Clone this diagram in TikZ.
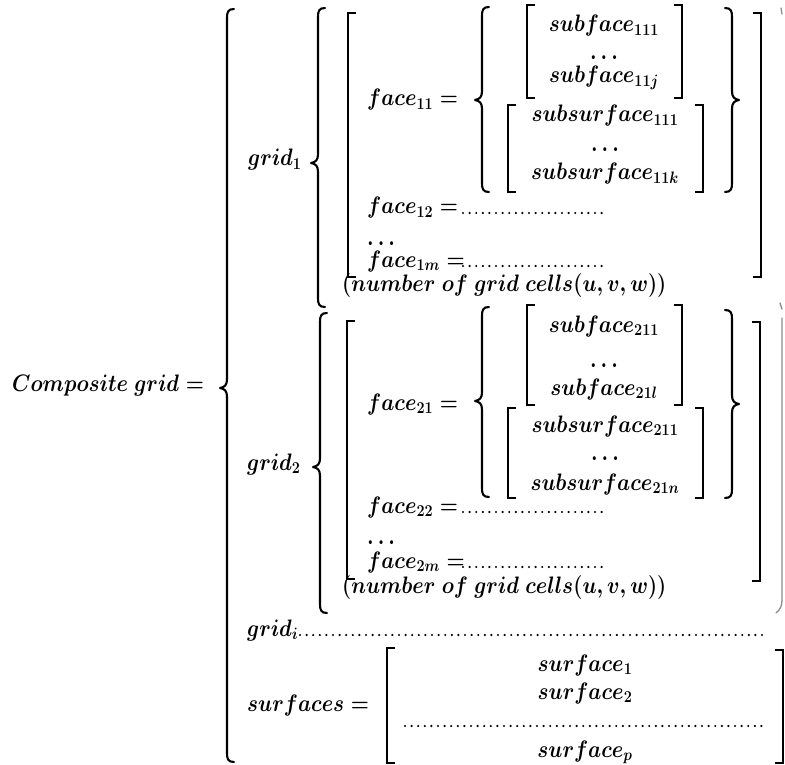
\documentclass[tikz,border=0pt]{standalone}
\usepackage{amsmath}
\newcommand\LBrace[4]{% x of line, top, tip y, bottom
  \draw[bracestyle] (#1+7,#2) .. controls (#1+1,#2) and (#1,#2+3) .. (#1,#2+9) -- (#1,#3-9) .. controls (#1,#3-3) and (#1-2,#3-1) .. (#1-7,#3) .. controls (#1-2,#3+1) and (#1,#3+3) .. (#1,#3+9) -- (#1,#4-9) .. controls (#1,#4-3) and (#1+1,#4) .. (#1+7,#4);}
\newcommand\RBrace[4]{%
  \draw[bracestyle] (#1-7,#2) .. controls (#1-1,#2) and (#1,#2+3) .. (#1,#2+9) -- (#1,#3-9) .. controls (#1,#3-3) and (#1+2,#3-1) .. (#1+7,#3) .. controls (#1+2,#3+1) and (#1,#3+3) .. (#1,#3+9) -- (#1,#4-9) .. controls (#1,#4-3) and (#1-1,#4) .. (#1-7,#4);}
\newcommand\LBrk[3]{\draw[brk] (#1+8,#2) -- (#1,#2) -- (#1,#3) -- (#1+8,#3);}
\newcommand\RBrk[3]{\draw[brk] (#1-8,#2) -- (#1,#2) -- (#1,#3) -- (#1-8,#3);}
\begin{document}
\begin{tikzpicture}[x=1pt,y=-1pt,
  txt/.style={inner sep=0pt, font=\fontsize{21}{25}\selectfont\boldmath, yscale=1.15, transform shape},
  lt/.style={txt, anchor=base west},
  ct/.style={txt, anchor=base},
  bracestyle/.style={line width=2.1pt, line cap=round, line join=round},
  brk/.style={line width=1.9pt, line join=miter},
  dotrow/.style={line width=2.4pt, line cap=round, dash pattern=on 0pt off 6.6pt},
  faint/.style={line width=1.3pt, black!45, line cap=round},
]
\useasboundingbox (0,0) rectangle (785,765);

% texts
\node[lt] (comp) at (12,391) {$Composite\ grid =$};
\node[lt] (g1) at (248,166) {$grid_1$};
\node[lt] (g2) at (247,470) {$grid_2$};

\node[lt] (f11) at (367,106) {$face_{11} =$};
\node[ct] (sf111) at (604,32) {$subface_{111}$};
\node[ct] (sfd1) at (604,60) {$\ldots$};
\node[ct] (sf11j) at (604,83) {$subface_{11j}$};
\node[ct] (ss111) at (605,122) {$subsurface_{111}$};
\node[ct] (ssd1) at (605,152) {$\ldots$};
\node[ct] (ss11k) at (605,180) {$subsurface_{11k}$};
\node[lt] (f12) at (367,214) {$face_{12} =$};
\node[lt] (d1) at (367,245) {$\ldots$};
\node[lt] (f1m) at (367,267) {$face_{1m} =$};
\node[lt] (n1) at (342,291) {$(number\ of\ grid\ cells(u,v,w))$};

\node[lt] (f21) at (367,410) {$face_{21} =$};
\node[ct] (sf211) at (604,332) {$subface_{211}$};
\node[ct] (sfd2) at (604,367) {$\ldots$};
\node[ct] (sf21l) at (604,395) {$subface_{21l}$};
\node[ct] (ss211) at (605,432) {$subsurface_{211}$};
\node[ct] (ssd2) at (605,460) {$\ldots$};
\node[ct] (ss21n) at (605,490) {$subsurface_{21n}$};
\node[lt] (f22) at (367,513) {$face_{22} =$};
\node[lt] (d2) at (367,544) {$\ldots$};
\node[lt] (f2m) at (367,568) {$face_{2m} =$};
\node[lt] (n2) at (342,593) {$(number\ of\ grid\ cells(u,v,w))$};

\node[lt] (gi) at (247,636) {$grid_i$};
\node[lt] (surfs) at (247,711) {$surfaces =$};
\node[ct] (s1) at (585,671) {$surface_1$};
\node[ct] (s2) at (585,699) {$surface_2$};
\node[ct] (sp) at (585,757) {$surface_p$};

% dotted fillers
\draw[dotrow] (463,213) -- (602,213);
\draw[dotrow] (463,266) -- (607,266);
\draw[dotrow] (463,512) -- (602,512);
\draw[dotrow] (463,567) -- (607,567);
\draw[dotrow] (300,635) -- (762,635);
\draw[dotrow] (405,726) -- (763,726);

% braces
\LBrace{227}{9}{388}{762}
\LBrace{318}{8}{163}{307}
\LBrace{320}{313}{467}{613}
\LBrace{482}{7}{100}{192}
\RBrace{732}{8}{100}{192}
\LBrace{482}{307}{401}{497}
\RBrace{732}{310}{404}{498}

% brackets
\LBrk{348}{13}{277}
\RBrk{761}{13}{277}
\LBrk{527}{5}{98}
\RBrk{682}{5}{98}
\LBrk{508}{105}{192}
\RBrk{703}{105}{192}
\LBrk{347}{321}{579}
\RBrk{760}{322}{581}
\LBrk{527}{305}{405}
\RBrk{682}{305}{405}
\LBrk{508}{408}{498}
\RBrk{703}{408}{498}
\LBrk{387}{648}{763}
\RBrk{783}{650}{763}

% partial marks at the right edge
\draw[faint] (781,8) -- (782,14);
\draw[faint] (780,303) -- (782,309);
\draw[faint] (782,318) -- (782,600) .. controls (782,606) and (780,610) .. (776,613);
\end{tikzpicture}
\end{document}
